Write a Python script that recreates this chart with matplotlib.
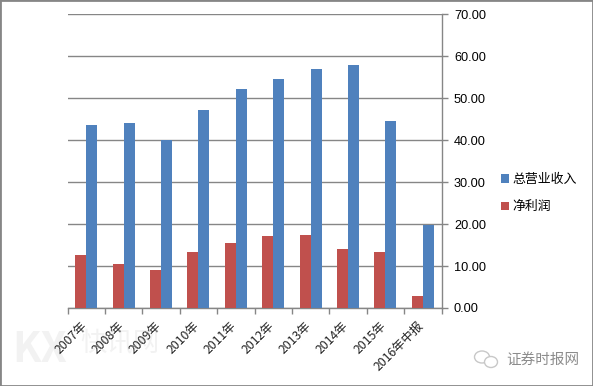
import numpy as np
import matplotlib
matplotlib.use('Agg')
import matplotlib.pyplot as plt
from matplotlib.patches import Rectangle, Ellipse

plt.rcParams['font.family'] = ['Noto Sans CJK SC', 'DejaVu Sans']

years = ['2007年', '2008年', '2009年', '2010年', '2011年', '2012年', '2013年', '2014年', '2015年', '2016年中报']
revenue = [43.7, 44.2, 40.1, 47.3, 52.3, 54.6, 57.0, 58.0, 44.6, 19.9]
profit = [12.7, 10.5, 9.1, 13.4, 15.5, 17.2, 17.4, 14.1, 13.4, 2.9]
yticks = [0, 10, 20, 30, 40, 50, 60, 70]

W, H = 593, 386
grey = '#868686'

fig = plt.figure(figsize=(W / 100, H / 100), dpi=100)
ax = fig.add_axes([67.5 / W, 1 - 308 / H, 374 / W, 293.5 / H])

x = np.arange(len(years))
bar_w = 0.295
ax.bar(x - bar_w, profit, bar_w, align='edge', color='#C0504D', label='净利润', zorder=3)
ax.bar(x, revenue, bar_w, align='edge', color='#4F81BD', label='总营业收入', zorder=3)

ax.set_xlim(-0.5, len(years) - 0.5)
ax.set_ylim(0, 70)
ax.yaxis.tick_right()
ax.set_yticks(yticks)
ax.set_yticklabels(['%.2f' % v for v in yticks], fontsize=9.2, family='Liberation Sans')
ax.tick_params(axis='y', length=4, width=1, color=grey, pad=5, direction='out')
ax.yaxis.grid(True, color=grey, linewidth=1)
ax.set_axisbelow(True)

ax.set_xticks(np.arange(len(years) + 1) - 0.5)
ax.set_xticklabels([])
ax.tick_params(axis='x', length=4, width=1, color=grey)

for s in ['top', 'left']:
    ax.spines[s].set_visible(False)
for s in ['right', 'bottom']:
    ax.spines[s].set_color(grey)
    ax.spines[s].set_linewidth(1)

for i, lab in enumerate(years):
    ax.annotate(lab, (i - 0.16, 0), xytext=(0, -8), textcoords='offset points',
                rotation=45, ha='right', va='top', rotation_mode='anchor',
                fontsize=8.8, color='#222222')

handles, labels = ax.get_legend_handles_labels()
fig.legend(handles[::-1], labels[::-1], loc='upper left', bbox_to_anchor=(501 / W, 1 - 173 / H),
           frameon=False, fontsize=9.3, handlelength=0.6, handleheight=0.6,
           handletextpad=0.25, labelspacing=1.1, borderpad=0, borderaxespad=0)

# watermarks, under the axis labels
fig.text(12 / W, 1 - 350 / H, 'KX', fontsize=30, color='#F2F2F2', weight='bold', va='center', zorder=-1)
fig.text(80 / W, 1 - 344 / H, '快讯网', fontsize=19, color='#F2F2F2', va='center', zorder=-1)
fig.text(506 / W, 1 - 360 / H, '证券时报网', fontsize=10.5, color='#8C8C8C', va='center')
fig.add_artist(Ellipse((482 / W, 1 - 357 / H), 15 / W, 12 / H, transform=fig.transFigure,
                       fill=False, edgecolor='#C8C8C8', linewidth=1))
fig.add_artist(Ellipse((491 / W, 1 - 362 / H), 13 / W, 11 / H, transform=fig.transFigure,
                       facecolor='white', edgecolor='#C8C8C8', linewidth=1))

fig.add_artist(Rectangle((0, 0), 1, 1, transform=fig.transFigure, fill=False,
                         edgecolor=grey, linewidth=2))

fig.savefig('out.png', dpi=100)
